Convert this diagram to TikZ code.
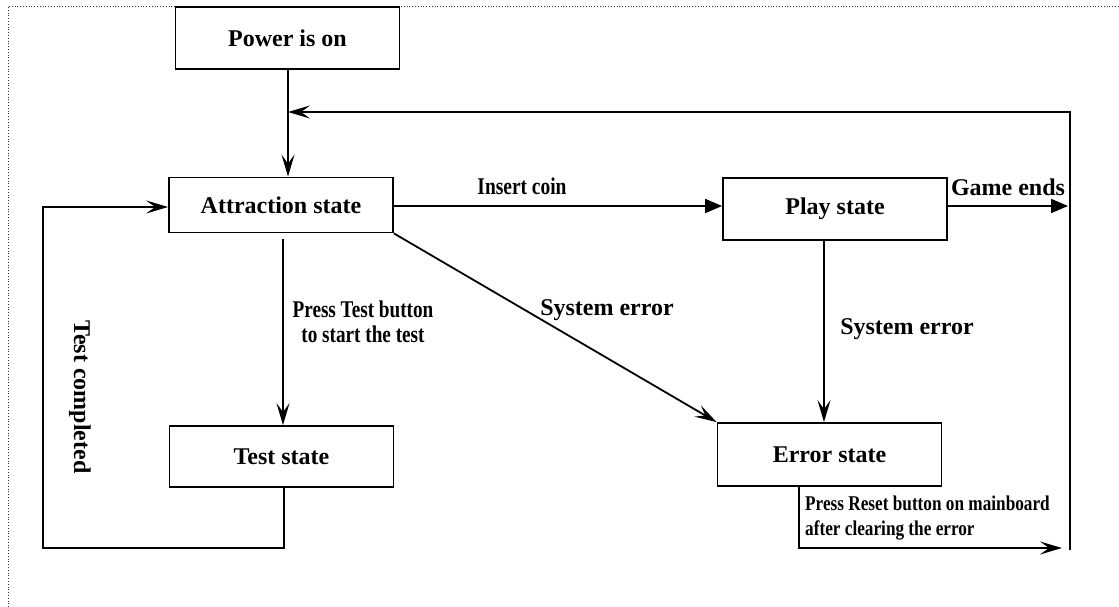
\documentclass[tikz,border=0pt]{standalone}
\usepackage{fontspec}
\setmainfont{Liberation Serif}
\usetikzlibrary{arrows.meta}
\tikzset{
  statebox/.style={draw, line width=1.8pt, minimum width=224pt, inner sep=0pt, font=\fontsize{24}{24}\selectfont\bfseries},
  conn/.style={line width=1.8pt},
  openarr/.style={-{Stealth[length=22pt,width=13pt,inset=9pt]}},
  fillarr/.style={-{Triangle[length=17pt,width=14pt]}},
  lbl/.style={inner sep=0pt, font=\fontsize{24}{24}\selectfont\bfseries},
  small/.style={inner sep=0pt, font=\fontsize{21}{25}\selectfont\bfseries, align=left}
}
\newcommand{\cond}[2]{\scalebox{#1}[1]{#2}}
\begin{document}
\begin{tikzpicture}[x=1pt,y=-1pt]
\useasboundingbox (0,0) rectangle (1119,607);
\draw[dotted, line width=0.8pt, black!80] (8,607) -- (8,6) -- (1119,6);
% states
\node[statebox, minimum height=62pt] (power) at (287.5,38) {Power is on};
\node[statebox, minimum height=55pt] (attr) at (281,205) {Attraction state};
\node[statebox, minimum height=62pt] (play) at (835,209) {Play state};
\node[statebox, minimum height=61pt] (test) at (281.5,456.5) {Test state};
\node[statebox, minimum height=63pt] (err) at (829.5,454.5) {Error state};
% helper coordinates
\coordinate (fbR) at (1070,550);
\coordinate (fbTR) at (1070,112);
\coordinate (fbL) at (288,112);
\coordinate (geEnd) at (1068,206);
\coordinate (tcA) at (284,548);
\coordinate (tcB) at (43,548);
\coordinate (tcC) at (43,207);
\coordinate (erA) at (799,548);
\coordinate (erEnd) at (1062,548);
% connectors
\draw[conn, openarr] (power.south -| 288,0) -- (attr.north -| 288,0);
\draw[conn, openarr] (fbR) -- (fbTR) -- (fbL);
\draw[conn, fillarr] (attr.east |- 0,206) -- (play.west |- 0,206);
\draw[conn, fillarr] (play.east |- 0,206) -- (geEnd);
\draw[conn, openarr] (play.south -| 824,0) -- (err.north -| 824,0);
\draw[conn, openarr] (attr.south east) -- (err.north west);
\draw[conn, openarr] ([yshift=-6pt]attr.south -| 283,0) -- (test.north -| 283,0);
\draw[conn, openarr] (test.south -| 284,0) -- (tcA) -- (tcB) -- (tcC) -- (attr.west |- tcC);
\draw[conn, openarr] (err.south -| 799,0) -- (erA) -- (erEnd);
% labels
\node[lbl] (lIns) at (522,186) {\cond{0.81}{Insert coin}};
\node[lbl] (lGame) at (1008,187) {Game ends};
\node[lbl] (lSys1) at (607,310) {System error};
\node[lbl] (lSys2) at (907,329) {System error};
\node[lbl, align=center] (lPress) at (363,322) {\cond{0.8}{Press Test button}\\[1pt]\cond{0.8}{to start the test}};
\node[lbl, rotate=-90] (lTc) at (80,397) {Test completed};
\node[small, anchor=north west] (lReset) at (805,496) {\cond{0.82}{Press Reset button on mainboard}\\\cond{0.82}{after clearing the error}};
\end{tikzpicture}
\end{document}
